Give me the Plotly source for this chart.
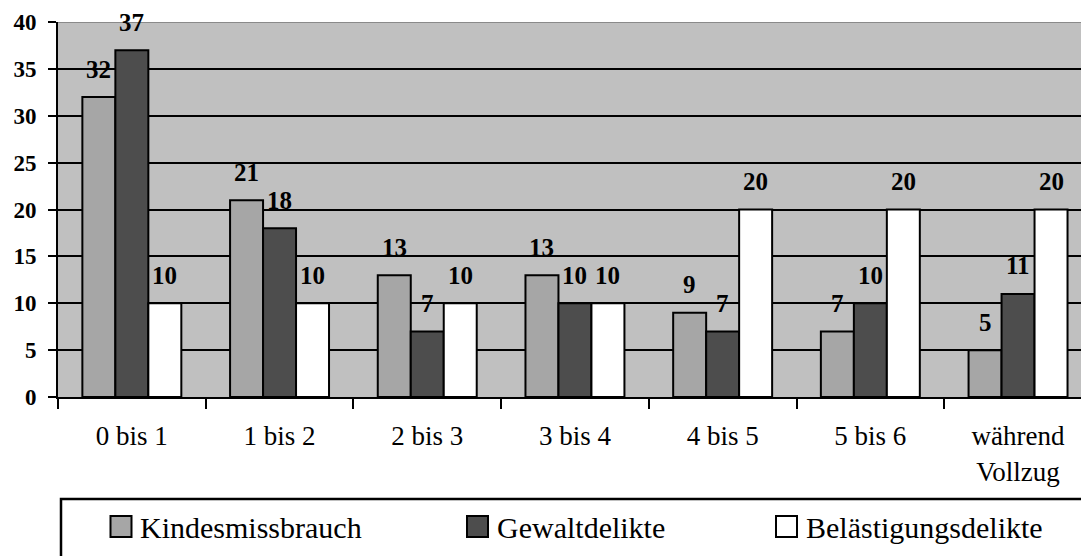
import plotly.graph_objects as go

# ---- data ----
categories = ["0 bis 1", "1 bis 2", "2 bis 3", "3 bis 4", "4 bis 5", "5 bis 6", "während<br>Vollzug"]
series_names = ["Kindesmissbrauch", "Gewaltdelikte", "Belästigungsdelikte"]
kindesmissbrauch = [32, 21, 13, 13, 9, 7, 5]
gewaltdelikte = [37, 18, 7, 10, 7, 10, 11]
belaestigungsdelikte = [10, 10, 10, 10, 20, 20, 20]
y_tick_values = [0, 5, 10, 15, 20, 25, 30, 35, 40]

series_values = [kindesmissbrauch, gewaltdelikte, belaestigungsdelikte]
colors = ["#A6A6A6", "#4D4D4D", "#FFFFFF"]

W, H = 1081, 556
ML, MR, MT, MB = 58, 0, 22, 159
BARGAP = 0.33
FONT = "Liberation Serif, Times New Roman, serif"

fig = go.Figure()
for name, vals, col in zip(series_names, series_values, colors):
    fig.add_trace(go.Bar(
        x=categories, y=vals, name=name,
        marker=dict(color=col, line=dict(color="black", width=2)),
        showlegend=False, hoverinfo="x+y+name",
    ))

# data labels above bars
nser = len(series_values)
bw = (1 - BARGAP) / nser
annotations = []
for k, vals in enumerate(series_values):
    for i, v in enumerate(vals):
        annotations.append(dict(
            x=i + (k - (nser - 1) / 2) * bw, y=v, xref="x", yref="y",
            text=f"<b>{v}</b>", showarrow=False, yanchor="middle", xanchor="center",
            yshift=28, font=dict(family=FONT, size=25, color="black"),
        ))

# manual legend (box runs past the figure edges like the reference)
pw = W - ML - MR
ph = H - MT - MB
def px_x(p):
    return (p - ML) / pw
def px_y(p):
    return (H - MB - p) / ph

shapes = [
    # top edge of plot area (grey line at 40)
    dict(type="line", xref="paper", yref="y", x0=0, x1=1, y0=40, y1=40,
         line=dict(color="#8A8A8A", width=2), layer="above"),
    dict(type="rect", xref="paper", yref="paper",
         x0=px_x(61), x1=px_x(1120), y0=px_y(499), y1=px_y(620),
         line=dict(color="black", width=2.5), fillcolor="rgba(0,0,0,0)", layer="above"),
]
square_left = [110.5, 467, 776]
text_left = [138, 495, 804]
for name, col, sx, tx in zip(series_names, colors, square_left, text_left):
    shapes.append(dict(type="rect", xref="paper", yref="paper",
                       x0=px_x(sx), x1=px_x(sx + 21), y0=px_y(537), y1=px_y(516),
                       fillcolor=col, line=dict(color="black", width=2), layer="above"))
    annotations.append(dict(x=px_x(tx), y=px_y(527), xref="paper", yref="paper",
                            text=name, showarrow=False, xanchor="left", yanchor="middle",
                            font=dict(family=FONT, size=30, color="black")))

fig.update_layout(
    width=W, height=H,
    margin=dict(l=ML, r=MR, t=MT, b=MB, pad=0),
    paper_bgcolor="white", plot_bgcolor="#C0C0C0",
    barmode="group", bargap=BARGAP, bargroupgap=0,
    font=dict(family=FONT, color="black"),
    showlegend=False,
    annotations=annotations, shapes=shapes,
)
fig.update_xaxes(
    type="category", range=[-0.5, -0.5 + pw / 147.7],
    showline=True, linecolor="black", linewidth=2,
    ticks="outside", tickson="boundaries", ticklen=10, tickwidth=2, tickcolor="black",
    tickfont=dict(family=FONT, size=27, color="black"),
    showgrid=False, zeroline=False, ticklabelstandoff=14,
)
fig.update_yaxes(
    range=[0, 40], tickmode="array", tickvals=y_tick_values,
    ticktext=[f"<b>{t}</b>" for t in y_tick_values],
    showline=True, linecolor="black", linewidth=2,
    ticks="outside", ticklen=8, tickwidth=2, tickcolor="black",
    tickfont=dict(family=FONT, size=23, color="black"),
    showgrid=True, gridcolor="black", gridwidth=2, zeroline=False,
    ticklabelstandoff=7,
)

fig.write_html(
    "out.html",
    config={"displayModeBar": False},
    post_script="document.body.style.margin='0';document.body.style.overflow='hidden';",
)
